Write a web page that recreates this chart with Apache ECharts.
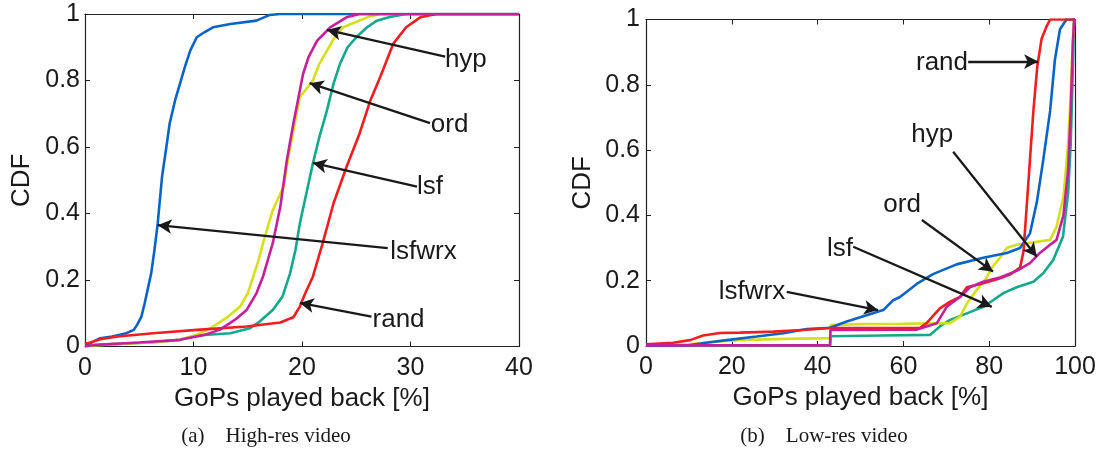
<!DOCTYPE html>
<html>
<head>
<meta charset="utf-8">
<script src="https://cdn.jsdelivr.net/npm/echarts@6/dist/echarts.min.js"></script>
<style>
html,body{margin:0;padding:0;background:#fff;}
#chart{width:1104px;height:453px;}
</style>
</head>
<body>
<div id="chart"></div>
<script>
// ---------- Data: (a) High-res video, x = GoPs played back [%], y = CDF ----------
const hiLsfwrx = [[0,0.005],[0.5,0.01],[1.4,0.025],[2.5,0.03],[3.8,0.04],[4.5,0.05],[4.8,0.065],[5.2,0.09],[5.5,0.13],[6.1,0.22],[6.4,0.29],[6.7,0.37],[7.1,0.51],[7.5,0.6],[7.8,0.67],[8.3,0.74],[8.75,0.79],[9.2,0.84],[9.7,0.89],[10.3,0.93],[11,0.945],[11.8,0.96],[13.4,0.97],[15.8,0.98],[16.5,0.99],[17,0.997],[18,1],[40,1]];
const hiRand = [[0,0.008],[0.5,0.012],[1.4,0.022],[3,0.03],[6.3,0.04],[10.3,0.05],[14.9,0.06],[18,0.072],[19.2,0.088],[19.8,0.12],[20.3,0.16],[21,0.21],[21.9,0.31],[22.9,0.43],[24.1,0.54],[25.3,0.64],[26.3,0.74],[27.2,0.81],[28.4,0.91],[29.6,0.96],[30.9,0.99],[32.4,1],[40,1]];
const hiLsf = [[0,0.002],[3,0.008],[6,0.012],[8.75,0.02],[10.3,0.033],[13.4,0.04],[15.2,0.055],[16.1,0.075],[17.3,0.11],[18.2,0.15],[18.9,0.22],[19.4,0.29],[19.8,0.37],[20.4,0.46],[21,0.55],[21.6,0.63],[22.3,0.71],[22.9,0.79],[23.5,0.85],[24.2,0.9],[25,0.93],[26,0.96],[26.9,0.98],[28,0.99],[29.6,1],[40,1]];
const hiOrd = [[0,0.002],[3,0.008],[6,0.012],[8.75,0.02],[10.3,0.035],[11.8,0.06],[13.2,0.09],[14.3,0.12],[15,0.16],[15.5,0.21],[16,0.26],[16.4,0.31],[17.3,0.41],[18.3,0.48],[18.7,0.56],[19.1,0.63],[19.8,0.75],[21,0.8],[21.6,0.85],[22.3,0.89],[23,0.93],[23.8,0.96],[26,0.99],[27.2,1],[40,1]];
const hiHyp = [[0,0],[1,0.005],[5,0.012],[8.75,0.02],[11,0.035],[12.4,0.05],[13.8,0.08],[14.9,0.11],[15.8,0.16],[16.4,0.21],[17.3,0.31],[18,0.42],[18.6,0.56],[19.2,0.67],[19.8,0.77],[20.1,0.82],[20.6,0.87],[21.4,0.92],[22.6,0.96],[24.1,0.99],[25.3,1],[40,1]];

// ---------- Data: (b) Low-res video ----------
const loLsfwrx = [[0,0],[10.3,0.003],[14,0.01],[18.8,0.018],[25.8,0.029],[32,0.039],[37.5,0.052],[42.9,0.056],[46.8,0.075],[52.9,0.1],[55.3,0.11],[57.6,0.14],[59.2,0.15],[63.1,0.19],[66.9,0.22],[72.4,0.25],[78.6,0.27],[84.1,0.285],[87.2,0.3],[89.5,0.345],[91.1,0.44],[92.6,0.57],[94.2,0.72],[95.3,0.875],[96.5,0.97],[98,1],[100,1]];
const loRand = [[0,0.005],[6.3,0.01],[10.3,0.018],[13.3,0.032],[17.2,0.04],[22,0.041],[29.7,0.044],[37.5,0.05],[42.9,0.055],[63.9,0.056],[65.4,0.07],[68.5,0.115],[70.9,0.136],[73.2,0.15],[74.8,0.18],[78,0.19],[82,0.205],[85,0.22],[87.2,0.24],[88,0.29],[88.7,0.42],[89.5,0.57],[90.3,0.72],[91.2,0.855],[92.2,0.94],[93.4,0.98],[94.2,1],[100,1]];
const loLsf = [[0,0.001],[42.9,0.001],[43,0.03],[55,0.032],[66.2,0.034],[68.5,0.06],[70.9,0.08],[74.8,0.1],[78.6,0.12],[80.9,0.14],[83.3,0.162],[86.4,0.18],[90.3,0.197],[92.6,0.223],[94.9,0.263],[97.2,0.335],[98.4,0.47],[99,0.62],[99.4,0.8],[99.8,1],[100,1]];
const loOrd = [[0,0],[10,0.005],[15.7,0.013],[22,0.018],[29.7,0.021],[42.9,0.024],[43,0.064],[50,0.067],[60,0.068],[70.9,0.07],[73.2,0.09],[74.8,0.13],[77,0.17],[79.4,0.21],[80.9,0.245],[82.5,0.27],[84.1,0.3],[86.4,0.31],[94.2,0.325],[95.7,0.365],[97.3,0.457],[98.4,0.62],[99,0.775],[99.5,0.93],[99.8,1],[100,1]];
const loHyp = [[0,0.002],[42.9,0.002],[43,0.049],[63,0.05],[67.8,0.07],[70.1,0.12],[73.2,0.15],[75.5,0.18],[78.6,0.197],[82.5,0.21],[86.4,0.23],[89.5,0.254],[91.8,0.285],[94.2,0.31],[95.7,0.325],[97.3,0.4],[98.4,0.54],[99,0.72],[99.5,0.93],[99.8,1],[100,1]];

// ---------- Annotations: [label, labelX, labelY, arrowTailX, arrowTailY, arrowTipX, arrowTipY] ----------
const hiNotes = [
  ['hyp', 35.1, 0.862, 33.2, 0.872, 22.3, 0.952],
  ['ord', 33.6, 0.666, 31.8, 0.672, 20.7, 0.792],
  ['lsf', 31.8, 0.480, 30.6, 0.481, 21.0, 0.552],
  ['lsfwrx', 31.2, 0.284, 27.9, 0.296, 6.7, 0.365],
  ['rand', 28.9, 0.080, 26.4, 0.090, 19.8, 0.131]
];
const loNotes = [
  ['rand', 69.0, 0.867, 75.1, 0.871, 91.4, 0.871],
  ['hyp', 66.7, 0.646, 71.6, 0.595, 91.1, 0.2735],
  ['ord', 59.7, 0.432, 64.3, 0.386, 80.9, 0.2276],
  ['lsf', 45.2, 0.297, 48.3, 0.304, 80.6, 0.120],
  ['lsfwrx', 24.7, 0.165, 32.8, 0.166, 54.1, 0.110]
];

const captions = ['(a)\u2003High-res video', '(b)\u2003Low-res video'];
const xName = 'GoPs played back [%]';
const yName = 'CDF';

// ---------- Styles ----------
const COLORS = { lsfwrx: '#0a64c8', rand: '#f01e1e', lsf: '#14a88c', ord: '#d4e01c', hyp: '#c81e9b' };
const TXT = '#1a1a1a';
const SANS = '"Liberation Sans", Arial, sans-serif';

function fmt(v) { return String(Math.round(v * 10) / 10); }

const LINE = { show: true, onZero: false, lineStyle: { color: '#222', width: 1.2 } };
const TICK = { show: true, inside: true, length: 5, lineStyle: { color: '#222' } };

function mainX(gi, max, interval) {
  return {
    gridIndex: gi, type: 'value', min: 0, max: max, interval: interval, position: 'bottom',
    name: xName, nameLocation: 'middle', nameGap: 36,
    nameTextStyle: { fontFamily: SANS, fontSize: 26, color: TXT },
    axisLine: LINE, axisTick: TICK,
    axisLabel: { fontFamily: SANS, fontSize: 25, color: TXT, margin: 9, formatter: v => String(v) },
    splitLine: { show: false }
  };
}
function topX(gi, max, interval) {
  return {
    gridIndex: gi, type: 'value', min: 0, max: max, interval: interval, position: 'top',
    axisLine: LINE, axisTick: TICK,
    axisLabel: { show: false }, splitLine: { show: false }
  };
}
function mainY(gi, gap, margin) {
  return {
    gridIndex: gi, type: 'value', min: 0, max: 1, interval: 0.2, position: 'left',
    name: yName, nameLocation: 'middle', nameGap: gap, nameRotate: 90,
    nameTextStyle: { fontFamily: SANS, fontSize: 26, color: TXT },
    axisLine: LINE, axisTick: TICK,
    axisLabel: { fontFamily: SANS, fontSize: 25, color: TXT, margin: margin, formatter: fmt },
    splitLine: { show: false }
  };
}
function rightY(gi) {
  return {
    gridIndex: gi, type: 'value', min: 0, max: 1, interval: 0.2, position: 'right',
    axisLine: LINE, axisTick: TICK,
    axisLabel: { show: false }, splitLine: { show: false }
  };
}

function curve(name, data, xi, yi) {
  return {
    type: 'line', name: name, data: data, xAxisIndex: xi, yAxisIndex: yi,
    showSymbol: false, symbol: 'none', smooth: false, animation: false, silent: true,
    lineStyle: { color: COLORS[name], width: 2.6 }, z: 3
  };
}

function notes(list, xi, yi) {
  return {
    type: 'scatter', xAxisIndex: xi, yAxisIndex: yi, animation: false, silent: true, z: 5,
    symbolSize: 1, itemStyle: { color: 'rgba(0,0,0,0)' },
    data: list.map(n => ({ name: n[0], value: [n[1], n[2]] })),
    label: { show: true, position: 'inside', formatter: p => p.name, fontFamily: SANS, fontSize: 26,
             color: TXT, opacity: 1, textBorderWidth: 0 },
    labelLayout: { hideOverlap: false },
    markLine: {
      silent: true, animation: false,
      symbol: ['none', 'arrow'], symbolSize: [11, 14],
      label: { show: false },
      lineStyle: { type: 'solid', color: '#1a1a1a', width: 2.3 },
      emphasis: { disabled: true },
      data: list.map(n => [{ coord: [n[3], n[4]] }, { coord: [n[5], n[6]] }])
    }
  };
}

const chart = echarts.init(document.getElementById('chart'), null, { renderer: 'canvas' });
chart.setOption({
  backgroundColor: '#fff',
  animation: false,
  grid: [
    { left: 85, top: 14, width: 434, height: 332.5 },
    { left: 646, top: 19.5, width: 429, height: 326.5 }
  ],
  xAxis: [mainX(0, 40, 10), mainX(1, 100, 20), topX(0, 40, 10), topX(1, 100, 20)],
  yAxis: [mainY(0, 50, 5), mainY(1, 50, 6), rightY(0), rightY(1)],
  series: [
    curve('lsf', hiLsf, 0, 0), curve('ord', hiOrd, 0, 0), curve('lsfwrx', hiLsfwrx, 0, 0),
    curve('rand', hiRand, 0, 0), curve('hyp', hiHyp, 0, 0),
    curve('lsf', loLsf, 1, 1), curve('ord', loOrd, 1, 1), curve('lsfwrx', loLsfwrx, 1, 1),
    curve('rand', loRand, 1, 1), curve('hyp', loHyp, 1, 1),
    notes(hiNotes, 0, 0), notes(loNotes, 1, 1)
  ],
  graphic: [
    { type: 'text', x: 266, y: 436, style: { text: captions[0], font: '21px "Liberation Serif", "Times New Roman", serif', fill: TXT, textAlign: 'center', textVerticalAlign: 'middle' } },
    { type: 'text', x: 824, y: 436, style: { text: captions[1], font: '21px "Liberation Serif", "Times New Roman", serif', fill: TXT, textAlign: 'center', textVerticalAlign: 'middle' } }
  ]
});
</script>
</body>
</html>
